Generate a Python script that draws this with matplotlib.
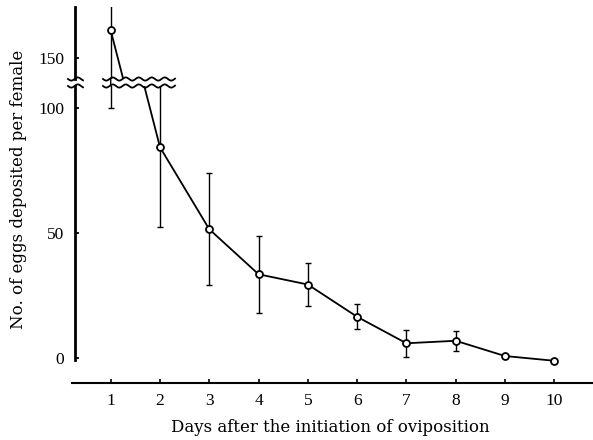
import matplotlib
matplotlib.use('Agg')
import matplotlib.pyplot as plt
import numpy as np
from matplotlib.patches import ConnectionPatch
from matplotlib.lines import Line2D

# ---- data ----
days = [1, 2, 3, 4, 5, 6, 7, 8, 9, 10]
eggs = [161, 84.3, 51.5, 33.5, 29.4, 16.5, 5.9, 6.9, 0.8, -1.1]
sd = [61, 32, 22.4, 15.5, 8.5, 5.0, 5.3, 4.0, 0, 0]
x_labels = ['1', '2', '3', '4', '5', '6', '7', '8', '9', '10']
lower_ticks = [0, 50, 100]
upper_ticks = [150]
xlabel = 'Days after the initiation of oviposition'
ylabel = 'No. of eggs deposited per female'

FONT = 'DejaVu Serif'
TFONT = 'Liberation Serif'
FS = 12
TFS = 12.5
W, H = 593, 440

fig = plt.figure(figsize=(W / 100, H / 100), dpi=100)
ax_lo = fig.add_axes([0.1211, 0.1295, 0.880, 0.675])
ax_hi = fig.add_axes([0.1211, 0.8205, 0.880, 0.1636])

XLIM = (0.21, 10.8)
YAX = 0.276
eb_days = [d for d, s in zip(days, sd) if s > 0]
eb_vals = [v for v, s in zip(eggs, sd) if s > 0]
eb_sd = [s for s in sd if s > 0]

for ax in (ax_lo, ax_hi):
    ax.errorbar(eb_days, eb_vals, yerr=eb_sd, fmt='none', ecolor='black',
                elinewidth=1.0, capsize=2.2, capthick=1.0, zorder=2)
    ax.plot(days, eggs, color='black', lw=1.3, zorder=3)
    ax.plot(days, eggs, linestyle='none', marker='o', ms=5, mfc='white',
            mec='black', mew=1.3, zorder=4)
    ax.set_xlim(*XLIM)
    ax.spines['top'].set_visible(False)
    ax.spines['right'].set_visible(False)
    ax.spines['left'].set_position(('data', YAX))
    ax.spines['left'].set_linewidth(2.0)
    ax.tick_params(axis='y', direction='in', length=3, width=1.3, pad=8,
                   labelsize=TFS)

ax_lo.set_ylim(-10, 108.8)
ax_lo.spines['left'].set_bounds(-0.6, 108.8)
ax_lo.spines['bottom'].set_linewidth(1.5)
ax_lo.set_yticks(lower_ticks)
ax_lo.set_yticklabels([str(t) for t in lower_ticks], fontfamily=TFONT, fontsize=TFS)
ax_lo.set_xticks(days)
ax_lo.set_xticklabels(x_labels, fontfamily=TFONT, fontsize=TFS)
ax_lo.tick_params(axis='x', direction='in', length=3, width=1.2, pad=7)

ax_hi.set_ylim(141.6, 170.4)
ax_hi.spines['bottom'].set_visible(False)
ax_hi.set_xticks([])
ax_hi.set_yticks(upper_ticks)
ax_hi.set_yticklabels([str(t) for t in upper_ticks], fontfamily=TFONT, fontsize=TFS)
ax_hi.patch.set_alpha(0)
ax_lo.patch.set_alpha(0)

# day-1 error bar continues through the break
cp = ConnectionPatch(xyA=(days[0], 141.6), coordsA=ax_hi.transData,
                     xyB=(days[0], 108.8), coordsB=ax_lo.transData,
                     color='black', lw=1.0)
fig.add_artist(cp)

# wavy break marks
def wave(x0, x1, y, wl=13.0, amp=1.6):
    xs = np.linspace(x0, x1, 200)
    ys = y + amp * np.sin(2 * np.pi * (xs - x0) / wl)
    fig.add_artist(Line2D(xs / W, 1 - ys / H, color='black', lw=1.3,
                          transform=fig.transFigure))

for yy in (79, 86):
    wave(68, 83, yy)
    wave(103, 175, yy)

fig.text(330 / W, 1 - 427 / H, xlabel, ha='center', va='center',
         fontfamily=FONT, fontsize=FS)
fig.text(19 / W, 1 - 189 / H, ylabel, ha='center', va='center',
         rotation=90, fontfamily=FONT, fontsize=FS)

fig.savefig('out.png', dpi=100)
